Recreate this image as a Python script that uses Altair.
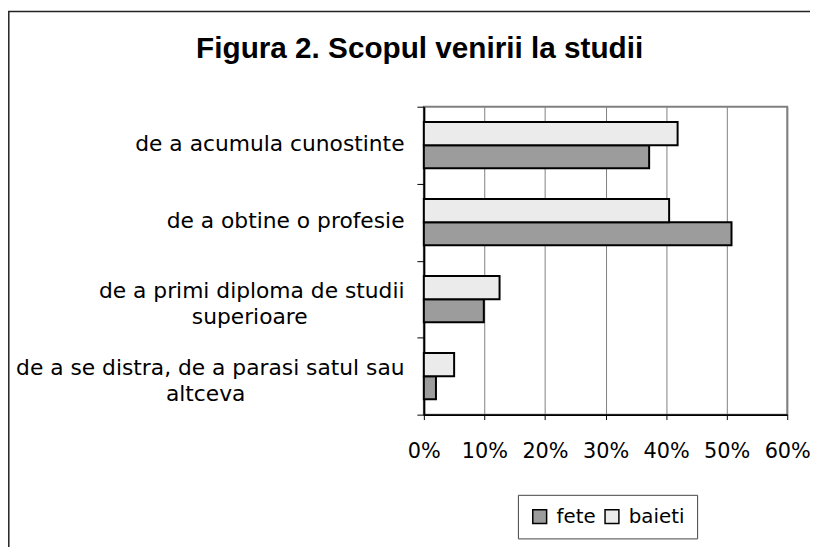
import altair as alt
import pandas as pd

# ---- data ----
categories = [
    "de a acumula cunostinte",
    "de a obtine o profesie",
    "de a primi diploma de studii\nsuperioare",
    "de a se distra, de a parasi satul sau\naltceva",
]
series = ["fete", "baieti"]
fete = [37.2, 50.8, 9.9, 2.0]
baieti = [41.9, 40.5, 12.5, 5.0]
x_ticks = [0, 10, 20, 30, 40, 50, 60]
chart_title = "Figura 2. Scopul venirii la studii"

rows = []
for c, f, b in zip(categories, fete, baieti):
    rows.append({"cat": c, "gen": "fete", "val": f})
    rows.append({"cat": c, "gen": "baieti", "val": b})
df = pd.DataFrame(rows)

LABEL_FONT = "DejaVu Sans"
NBSP = "\u00a0"
ZWSP = "\u200b"

# split multi-line labels; visually centre the 2nd line under the 1st
L = "split(datum.label, '\\n')"
y_label_expr = (
    f"length({L}) > 1 ? [{L}[0], pad({L}[1], length({L}[1]) + "
    f"round((length({L}[0]) - length({L}[1])) * 0.75), '{NBSP}') + '{ZWSP}'] : datum.label"
)

PAD_L = 420
PAD_T = 97

bars = alt.Chart(df).mark_bar(stroke="black", strokeWidth=2).encode(
    x=alt.X(
        "val:Q",
        scale=alt.Scale(domain=[0, 60], nice=False, zero=True),
        axis=alt.Axis(
            title=None,
            values=x_ticks,
            labelExpr="datum.value + '%'",
            grid=True,
            gridColor="#808080",
            gridWidth=1,
            domainColor="black",
            domainWidth=2,
            tickColor="black",
            tickSize=5,
            labelFont=LABEL_FONT,
            labelFontSize=21,
            labelColor="black",
            labelPadding=21,
            labelBaseline="top",
            labelFlush=False,
            labelOverlap=False,
        ),
    ),
    y=alt.Y(
        "cat:N",
        sort=categories,
        scale=alt.Scale(paddingInner=0, paddingOuter=0),
        axis=alt.Axis(
            title=None,
            grid=False,
            tickBand="extent",
            domainColor="black",
            domainWidth=2,
            tickColor="black",
            tickSize=7,
            labelExpr=y_label_expr,
            labelAlign="right",
            labelBaseline={
                "condition": {
                    "test": "isString(datum.value) && length(split(datum.value, '\\n')) > 1",
                    "value": "alphabetic",
                },
                "value": "middle",
            },
            labelOffset=-2,
            labelLineHeight=26.5,
            labelPadding=13,
            labelFont=LABEL_FONT,
            labelFontSize=22,
            labelColor="black",
            labelLimit=600,
            labelOverlap=False,
            labelBound=False,
        ),
    ),
    yOffset=alt.YOffset(
        "gen:N",
        sort=["baieti", "fete"],
        scale=alt.Scale(paddingInner=0, paddingOuter=0.667),
    ),
    fill=alt.Fill(
        "gen:N",
        scale=alt.Scale(domain=series, range=["#9c9c9c", "#ebebeb"]),
        legend=alt.Legend(
            orient="none",
            legendX=95,
            legendY=392,
            direction="horizontal",
            title=None,
            symbolType="square",
            symbolSize=196,
            symbolStrokeColor="black",
            symbolStrokeWidth=1.5,
            labelFont=LABEL_FONT,
            labelFontSize=20,
            labelColor="black",
            labelOffset=7,
            columnPadding=6,
            padding=12,
            strokeColor="#444444",
            fillColor="white",
        ),
    ),
)

frame = alt.Chart(pd.DataFrame({"k": [0]})).mark_rect(
    fill="white", fillOpacity=0, stroke="#222222", strokeWidth=1.5, clip=False
).encode(
    x=alt.value(-PAD_L + 0.8),
    x2=alt.value(800),
    y=alt.value(-PAD_T + 0.8),
    y2=alt.value(700),
)

chart = (
    alt.layer(frame, bars)
    .properties(
        width=367,
        height=311,
        autosize=alt.AutoSizeParams(type="none"),
        padding={"left": PAD_L, "top": PAD_T, "right": 23, "bottom": 131},
        title=alt.TitleParams(
            text=chart_title,
            font="Liberation Sans",
            fontSize=30,
            fontWeight="bold",
            color="black",
            anchor="start",
            frame="group",
            baseline="alphabetic",
            offset=0,
            dx=-230,
            dy=78,
        ),
    )
    .configure_view(stroke="#808080", strokeWidth=2)
)

chart.save("out.html", embed_options={"renderer": "svg", "actions": False})
